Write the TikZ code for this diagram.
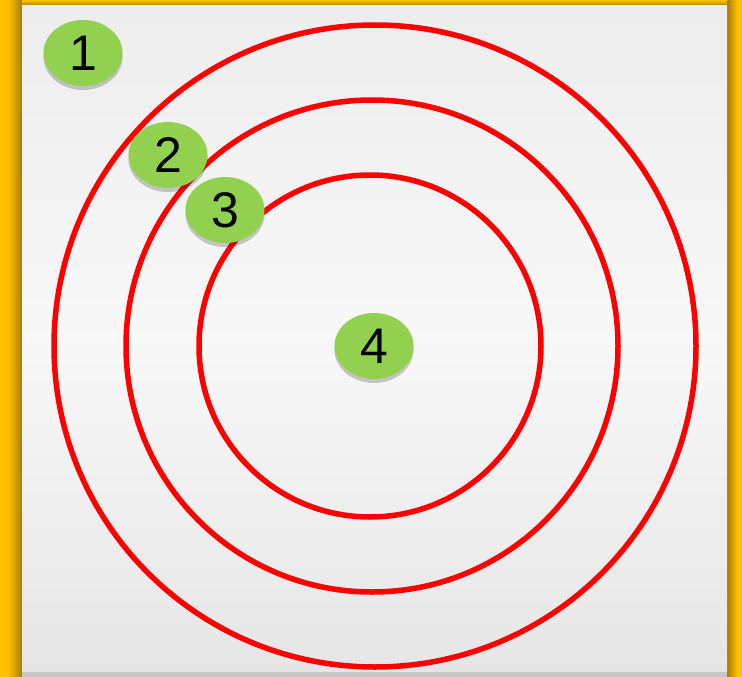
\documentclass[tikz,border=0pt]{standalone}
\usepackage{fontspec}
\setmainfont{Liberation Sans}
\usetikzlibrary{shadows,shapes.geometric}
\definecolor{frame}{HTML}{FFC000}
\definecolor{frameshade}{HTML}{A87C00}
\definecolor{panel}{HTML}{EDEDED}
\definecolor{ring}{HTML}{FF0000}
\definecolor{dot}{HTML}{92D050}
\tikzset{
  ring/.style={draw=ring, line width=5.5pt},
  dot/.style={ellipse, fill=dot, minimum width=79pt, minimum height=66pt, inner sep=0pt,
    font=\fontsize{50}{50}\selectfont,
    drop shadow={shadow xshift=0pt, shadow yshift=-4pt, fill=black, opacity=0.2}}
}
\begin{document}
\begin{tikzpicture}[x=1pt,y=-1pt]
\useasboundingbox (0,0) rectangle (742,677);
\fill[frame] (0,0) rectangle (742,677);
\shade[left color=frame, right color=frameshade] (8,0) rectangle (22,677);
\shade[left color=frameshade, right color=frame] (727,0) rectangle (737,677);
\shade[top color=frame, bottom color=frameshade] (22,0) rectangle (727,6);
\shade[top color=panel, bottom color=panel!97!black, middle color=panel!40!white] (22,6) rectangle (727,672);
\fill[black!22] (22,672) rectangle (727,677);
% rings
\draw[ring] (375,346) circle (321);
\draw[ring] (372,346) circle (246);
\draw[ring] (370,346) circle (171);
% numbered spots
\node[dot] (n1) at (83,53) {1};
\node[dot] (n2) at (168,155) {2};
\node[dot] (n3) at (225,210) {3};
\node[dot] (n4) at (374,346) {4};
\end{tikzpicture}
\end{document}
